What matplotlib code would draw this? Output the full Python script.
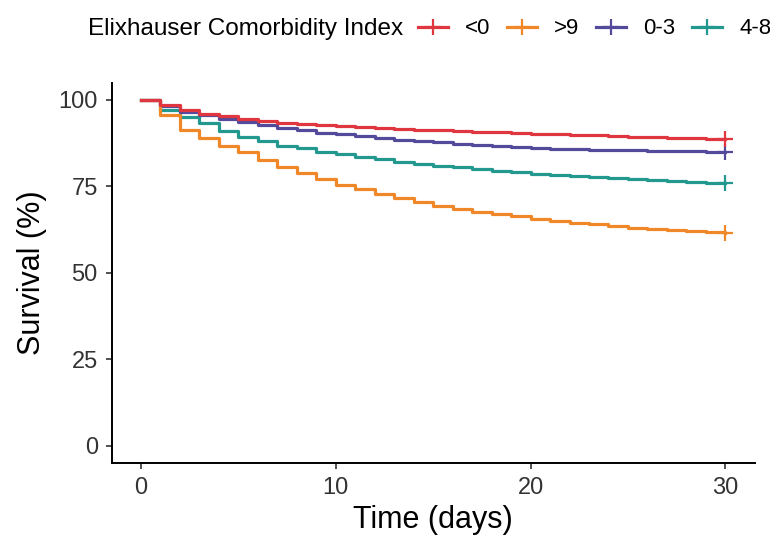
import numpy as np
import matplotlib.pyplot as plt
from matplotlib.lines import Line2D

plt.rcParams['font.family'] = ['Liberation Sans', 'DejaVu Sans']

# === Data (survival %) ===
days = list(range(0, 31))
groups = ['<0', '>9', '0-3', '4-8']
colors = ['#E0363F', '#F0882A', '#534A9C', '#22988E']

surv_lt0 = [100, 98.5, 97.0, 96.0, 95.2, 94.5, 93.9, 93.4, 93.0, 92.7, 92.4,
            92.1, 91.8, 91.6, 91.4, 91.2, 91.0, 90.8, 90.6, 90.4, 90.2,
            90.1, 89.9, 89.7, 89.5, 89.3, 89.2, 89.0, 88.9, 88.8, 88.7]
surv_gt9 = [100, 95.7, 91.3, 89.0, 86.8, 85.0, 82.7, 80.6, 78.9, 77.2, 75.5,
            74.1, 72.8, 71.7, 70.4, 69.4, 68.5, 67.7, 67.0, 66.3, 65.6,
            65.0, 64.5, 64.0, 63.5, 63.1, 62.7, 62.4, 62.0, 61.7, 61.5]
surv_0_3 = [100, 98.2, 96.6, 95.5, 94.5, 93.5, 92.6, 91.9, 91.2, 90.5, 90.0,
            89.5, 89.0, 88.5, 88.1, 87.7, 87.3, 87.0, 86.7, 86.4, 86.1,
            85.9, 85.7, 85.6, 85.5, 85.4, 85.3, 85.2, 85.1, 85.0, 84.9]
surv_4_8 = [100, 97.1, 95.0, 93.2, 91.1, 89.4, 88.0, 86.8, 86.0, 85.0, 84.3,
            83.6, 82.8, 82.1, 81.5, 81.0, 80.5, 80.0, 79.5, 79.1, 78.6,
            78.2, 77.9, 77.6, 77.3, 77.0, 76.8, 76.5, 76.3, 76.1, 75.9]
series = [surv_lt0, surv_gt9, surv_0_3, surv_4_8]

# === Figure ===
fig = plt.figure(figsize=(7.7, 5.36), dpi=100)
ax = fig.add_axes([0.145, 0.136, 0.835, 0.71])

# draw in reverse so red ends up on top
for vals, col in reversed(list(zip(series, colors))):
    ax.step(days, vals, where='post', color=col, linewidth=2.3)
    ax.plot(days[-1], vals[-1], marker='+', color=col, markersize=11, markeredgewidth=1.6)

ax.set_xlim(-1.5, 31.5)
ax.set_ylim(-5, 105)
ax.set_xticks([0, 10, 20, 30])
ax.set_yticks([0, 25, 50, 75, 100])
ax.tick_params(labelsize=17, length=4, width=1.2, pad=6, color='#333333', labelcolor='#333333')
for s in ['top', 'right']:
    ax.spines[s].set_visible(False)
for s in ['left', 'bottom']:
    ax.spines[s].set_linewidth(1.4)
ax.set_xlabel('Time (days)', fontsize=22, labelpad=4)
ax.set_ylabel('Survival (%)', fontsize=22, labelpad=8)

# === Legend on top (the last label runs off the right edge, as in the source) ===
fig.text(88 / 770, 1 - 29 / 536, 'Elixhauser Comorbidity Index', fontsize=17.5,
         va='center', ha='left')
handles = [Line2D([], [], color=c, linewidth=2.3, marker='+', markersize=11,
                  markeredgewidth=1.6) for c in colors]
fig.legend(handles, groups, loc='center left', bbox_to_anchor=(418 / 770, 1 - 29 / 536),
           ncol=4, frameon=False, fontsize=16, handlelength=1.35, handletextpad=0.77,
           columnspacing=0.75, borderpad=0, borderaxespad=0)

fig.savefig('out.png', dpi=100)
